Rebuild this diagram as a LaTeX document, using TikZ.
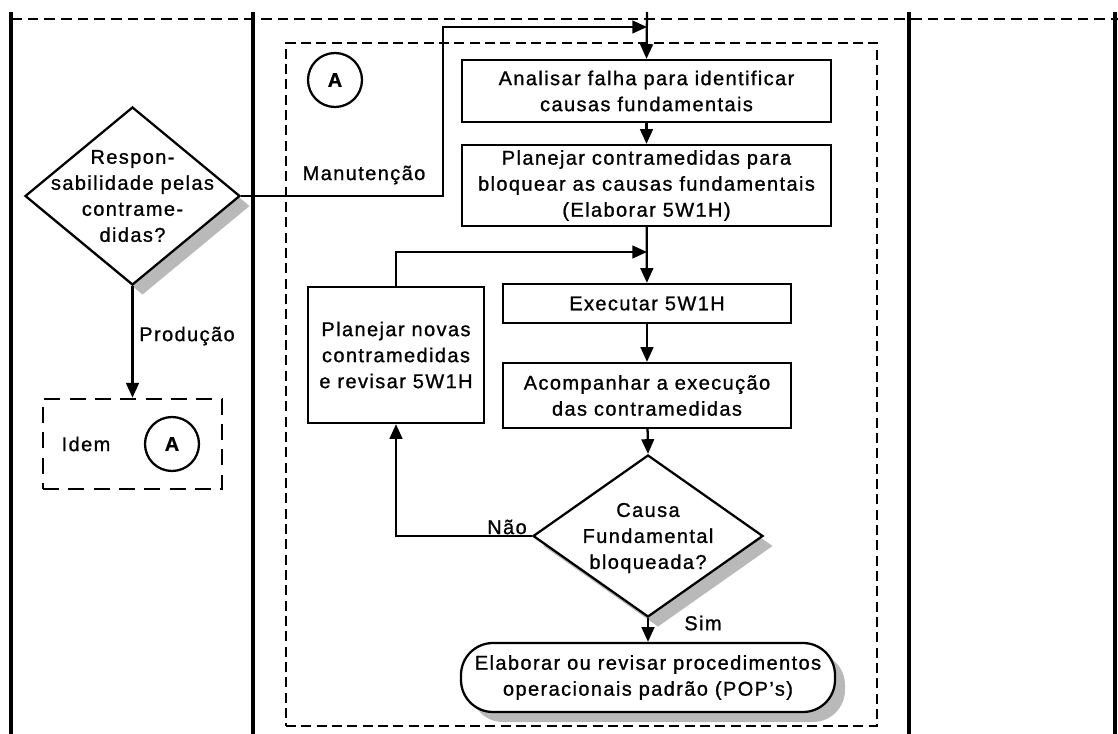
\documentclass[tikz,border=0pt]{standalone}
\usepackage{fontspec}
\setmainfont{Liberation Sans}[LetterSpace=7, FakeBold=1]
\usetikzlibrary{arrows.meta,shapes.geometric,shadows}
\newcommand\pxu{0.75pt}
\begin{document}
\begin{tikzpicture}[x=0.75pt, y=-0.75pt,
  every node/.style={font=\fontsize{15}{19.5}\selectfont},
  boxsize/.style 2 args={minimum width=#1*\pxu, minimum height=#2*\pxu},
  lane/.style={line width=2.6pt},
  topdash/.style={line width=2pt, dash pattern=on 8pt off 4.5pt},
  areabox/.style={draw, line width=2pt, dash pattern=on 7.5pt off 4pt, inner sep=0pt},
  idembox/.style={draw, line width=2pt, dash pattern=on 12pt off 7pt, inner sep=0pt},
  stepbox/.style={draw, line width=1.7pt, fill=white, inner sep=0pt, align=center},
  decision/.style={diamond, draw, line width=1.7pt, fill=white, inner sep=0pt},
  castshadow/.style={general shadow={fill=gray!55, shadow xshift=7.5pt, shadow yshift=-7.5pt}},
  conn/.style={circle, draw, line width=1.7pt, minimum size=40.5pt, inner sep=0pt,
    font=\fontsize{15}{19.5}\selectfont\bfseries},
  flow/.style={line width=1.7pt, -{Triangle[length=11pt,width=9.5pt]}},
]
\useasboundingbox (0,0) rectangle (1118,734);

% swimlane frame
\draw[lane] (11,12) -- (11,734);
\draw[lane] (253,12) -- (253,734);
\draw[lane] (909,12) -- (909,734);
\draw[lane] (1115,12) -- (1115,734);
\draw[topdash] (11,19) -- (1118,19);

% maintenance area (connector A)
\node[areabox, boxsize={591}{683}] (area) at (581.5,384.5) {};
\node[conn] (ca1) at (335,80) {A};

% main column
\node[stepbox, boxsize={369}{62}] (b1) at (646.5,91) {Analisar falha para identificar\\causas fundamentais};
\node[stepbox, boxsize={369}{81}] (b2) at (646.5,185.5) {Planejar contramedidas para\\bloquear as causas fundamentais\\(Elaborar 5W1H)};
\node[stepbox, boxsize={288}{39}] (ex) at (647,303.5) {Executar 5W1H};
\node[stepbox, boxsize={288}{65}] (ac) at (647,395.5) {Acompanhar a execução\\das contramedidas};
\node[stepbox, boxsize={176}{136}] (pn) at (396,355) {Planejar novas\\contramedidas\\e revisar 5W1H};
\node[decision, castshadow, boxsize={230}{162}] (d2) at (648,536) {};
\node[align=center] (d2t) at (648,538) {Causa\\Fundamental\\bloqueada?};
\node[stepbox, castshadow, rounded corners=24pt, boxsize={374}{69}] (pop) at (648,677.5) {Elaborar ou revisar procedimentos\\operacionais padrão (POP's)};

% responsibility decision
\node[decision, castshadow, boxsize={215}{178}] (d1) at (132.5,196) {};
\node[align=center] (d1t) at (d1.center) {Respon-\\sabilidade pelas\\contrame-\\didas?};
\node[idembox, boxsize={179}{90}] (idem) at (132.5,444) {};
\node (idemt) at (86,444) {Idem};
\node[conn] (ca2) at (172,444) {A};

% connector labels
\node (lman) at (364,175) {Manutenção};
\node (lprod) at (187,336) {Produção};
\node (lnao) at (507,527) {Não};
\node (lsim) at (703,623) {Sim};

% connectors
\coordinate (topin) at (647,12);
\coordinate (jm) at (647,27);
\coordinate (bend) at (443,27);
\coordinate (jl) at (647,252);
\draw[flow] (topin) -- (b1.north);
\draw[flow] (d1.east) -| (bend) -- (jm);
\draw[flow] (b1) -- (b2);
\draw[flow] (b2) -- (ex);
\draw[flow] (pn.north) |- (jl);
\draw[flow] (ex) -- (ac);
\draw[flow] (ac) -- (d2.north);
\draw[flow] (d2.west) -| (pn.south);
\draw[flow] (d2.south) -- (pop.north);
\draw[flow] (d1.south) -- (idem.north);
\end{tikzpicture}
\end{document}
